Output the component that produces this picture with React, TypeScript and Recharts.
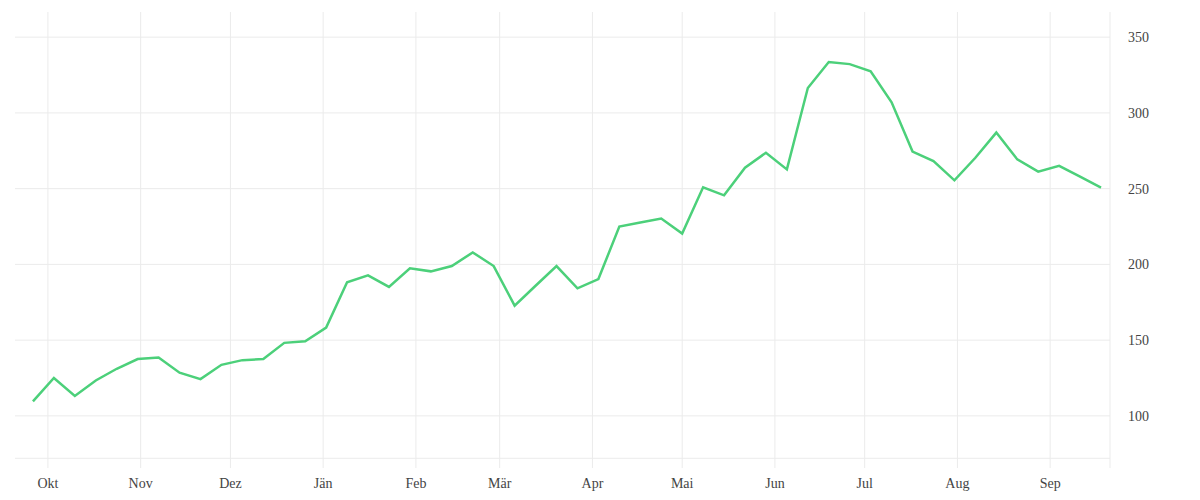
import { Line, LineChart, ReferenceLine, XAxis, YAxis } from 'recharts';

const weeks = [
  '2018-09-26', '2018-10-03', '2018-10-10', '2018-10-17', '2018-10-24', '2018-10-31',
  '2018-11-07', '2018-11-14', '2018-11-21', '2018-11-28', '2018-12-05', '2018-12-12',
  '2018-12-19', '2018-12-26', '2019-01-02', '2019-01-09', '2019-01-16', '2019-01-23',
  '2019-01-30', '2019-02-06', '2019-02-13', '2019-02-20', '2019-02-27', '2019-03-06',
  '2019-03-13', '2019-03-20', '2019-03-27', '2019-04-03', '2019-04-10', '2019-04-17',
  '2019-04-24', '2019-05-01', '2019-05-08', '2019-05-15', '2019-05-22', '2019-05-29',
  '2019-06-05', '2019-06-12', '2019-06-19', '2019-06-26', '2019-07-03', '2019-07-10',
  '2019-07-17', '2019-07-24', '2019-07-31', '2019-08-07', '2019-08-14', '2019-08-21',
  '2019-08-28', '2019-09-04', '2019-09-11', '2019-09-18',
];

const values = [
  109.6, 125, 113.2, 123.4, 131.1, 137.5,
  138.6, 128.5, 124.3, 133.7, 136.8, 137.5,
  148.2, 149.3, 158.3, 188.2, 192.8, 185.1,
  197.4, 195.4, 198.9, 207.9, 198.9, 172.8,
  185.9, 198.9, 184.2, 190.3, 225, 227.6,
  230.3, 220.4, 250.9, 245.6, 263.8, 273.7,
  262.7, 316.4, 333.6, 332.2, 327.4, 307,
  274.5, 268.2, 255.5, 270.4, 287, 269.3,
  261.2, 265.1, 257.9, 250.7,
];

const monthTicks = [
  '2018-10-01', '2018-11-01', '2018-12-01', '2019-01-01', '2019-02-01', '2019-03-01',
  '2019-04-01', '2019-05-01', '2019-06-01', '2019-07-01', '2019-08-01', '2019-09-01',
];
const monthLabels = ['Okt', 'Nov', 'Dez', 'Jän', 'Feb', 'Mär', 'Apr', 'Mai', 'Jun', 'Jul', 'Aug', 'Sep'];

const yTicks = [100, 150, 200, 250, 300, 350];
const xDomain = ['2018-09-20', '2019-09-21'];
const yDomain = [65.6, 366.6];
const baseline = 72;

const data = weeks.map((d, i) => ({ t: Date.parse(d), value: values[i] }));
const tickTimes = monthTicks.map((d) => Date.parse(d));

const GRID = '#ebebeb';
const TEXT = '#444444';
const FONT = "'Liberation Serif', serif";

const App = () => {
  const fmtMonth = (t: number) => {
    const idx = tickTimes.indexOf(t);
    return idx >= 0 ? monthLabels[idx] : '';
  };

  return (
    <div style={{ position: 'absolute', left: 0, top: 0, width: 1200, height: 500, background: '#fff' }}>
      <LineChart
        width={1200}
        height={500}
        data={data}
        margin={{ top: 12, right: 0, left: 15, bottom: 2 }}
      >
        <XAxis
          dataKey="t"
          type="number"
          scale="linear"
          domain={[Date.parse(xDomain[0]), Date.parse(xDomain[1])]}
          ticks={tickTimes}
          tickFormatter={fmtMonth}
          axisLine={false}
          tickLine={false}
          tickMargin={4}
          height={30}
          tick={{ fill: TEXT, fontSize: 14, fontFamily: FONT }}
        />
        <YAxis
          orientation="right"
          type="number"
          domain={yDomain}
          ticks={yTicks}
          allowDataOverflow
          width={90}
          axisLine={{ stroke: GRID }}
          tickLine={false}
          tickMargin={12}
          tick={{ fill: TEXT, fontSize: 14, fontFamily: FONT, textAnchor: 'start' }}
        />
        {yTicks.map((v) => (
          <ReferenceLine key={`h${v}`} y={v} stroke={GRID} strokeWidth={1} />
        ))}
        <ReferenceLine y={baseline} stroke={GRID} strokeWidth={1} />
        {tickTimes.map((t) => (
          <ReferenceLine key={`v${t}`} x={t} stroke={GRID} strokeWidth={1} />
        ))}
        <Line
          type="linear"
          dataKey="value"
          stroke="#4cd07a"
          strokeWidth={2.5}
          dot={false}
          activeDot={false}
          isAnimationActive={false}
        />
      </LineChart>
    </div>
  );
};

export default App;
